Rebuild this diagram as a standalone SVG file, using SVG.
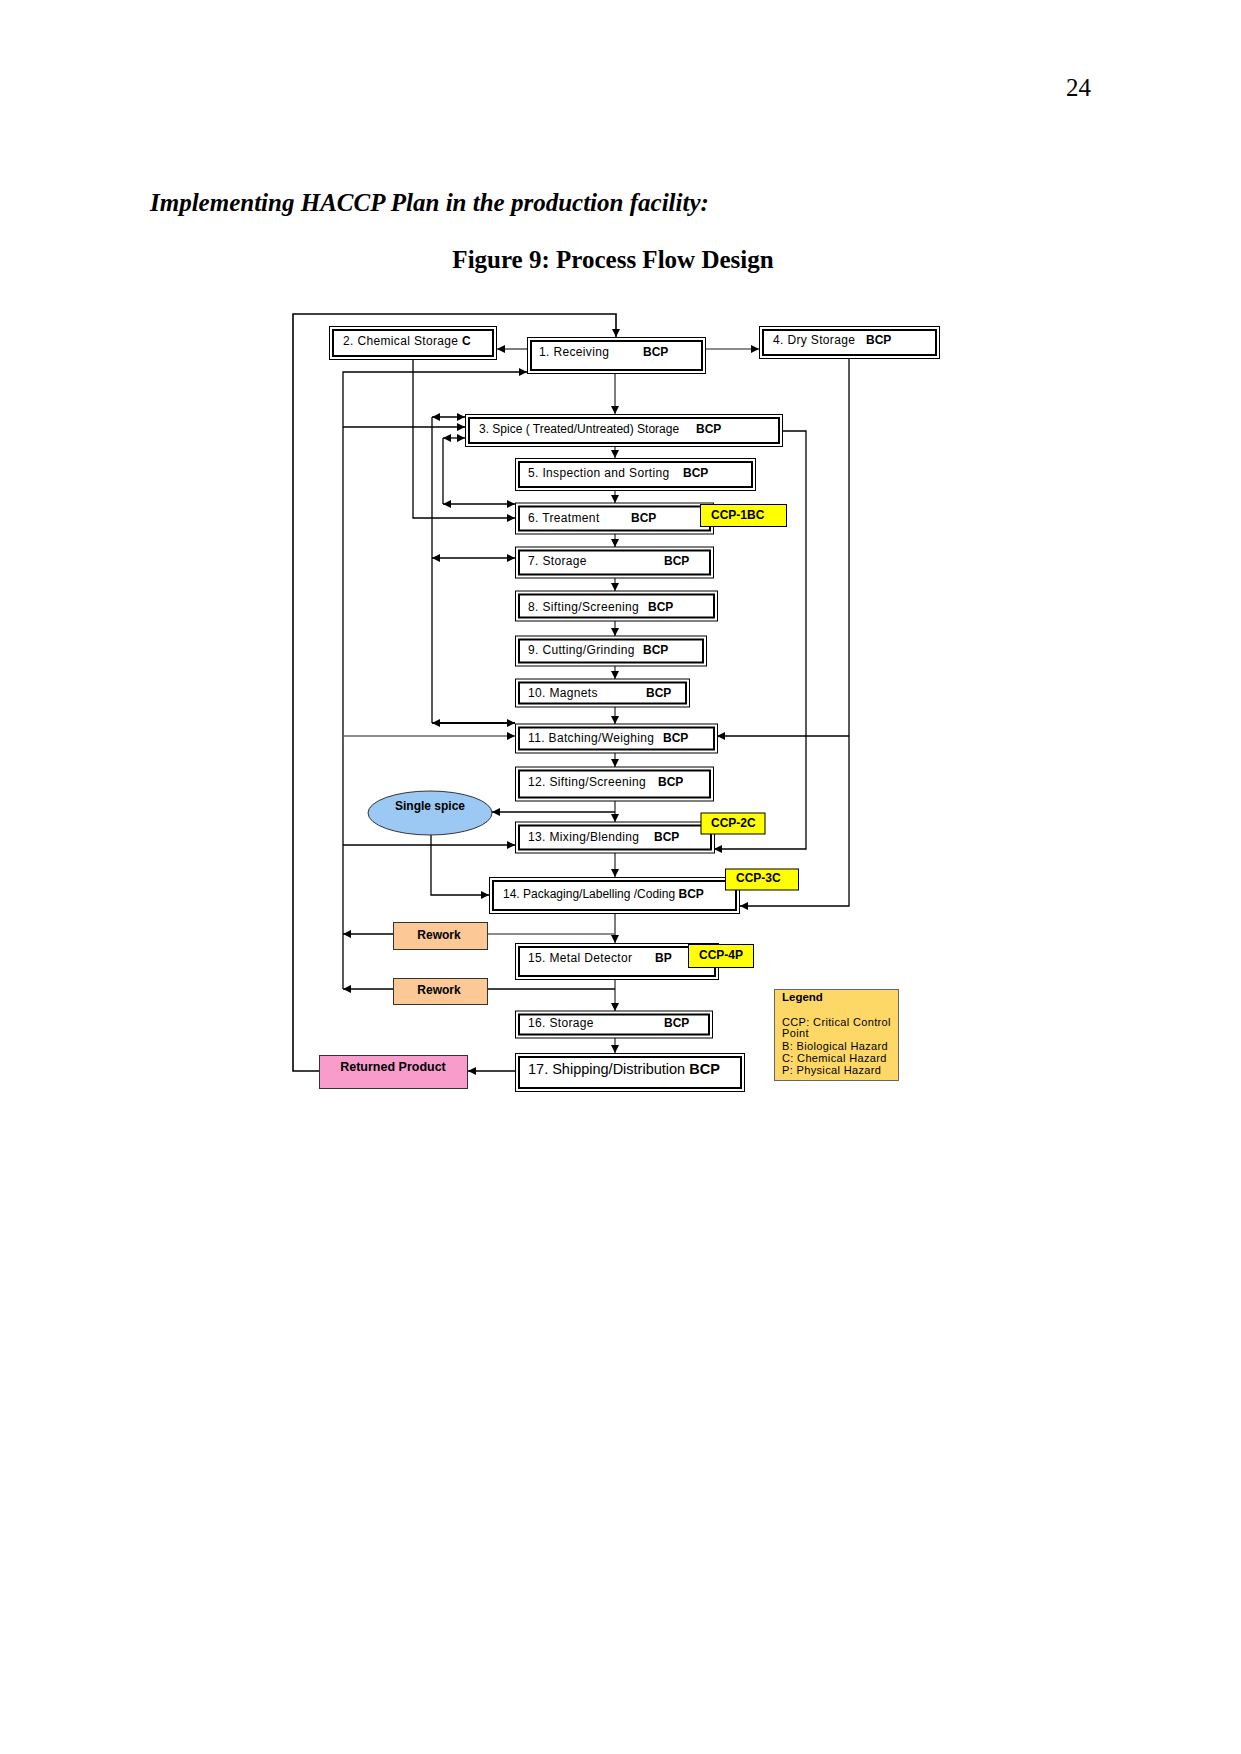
<svg xmlns="http://www.w3.org/2000/svg" width="1241" height="1754" viewBox="0 0 1241 1754">
<style>
.pg{font-family:"Liberation Serif","Times New Roman",serif;font-size:25px;fill:#000}
.t{font-family:"Liberation Sans",Arial,sans-serif;font-size:12px;fill:#000}
.s{letter-spacing:0.35px}
.b{font-weight:bold;letter-spacing:0}
.o{fill:#fff;stroke:#000;stroke-width:1}
.i{fill:none;stroke:#000;stroke-width:2}
.ccp{fill:#ffff00;stroke:#000;stroke-width:1}
.rw{fill:#fbc896;stroke:#333;stroke-width:1}
.rp{fill:#f89ccb;stroke:#333;stroke-width:1}
.lg{fill:#fdd866;stroke:#666;stroke-width:1}
.c{fill:none;stroke:#000;stroke-width:1.3}
.g{fill:none;stroke:#666;stroke-width:1.7}
.a{marker-end:url(#arr)}
.d{marker-start:url(#arr);marker-end:url(#arr)}
</style>
<defs>
<marker id="arr" viewBox="0 0 10 10" refX="10" refY="5" markerWidth="8" markerHeight="8" markerUnits="userSpaceOnUse" orient="auto-start-reverse">
<path d="M0,0 L10,5 L0,10 z" fill="#000"/>
</marker>
</defs>
<rect x="0" y="0" width="1241" height="1754" fill="#fff"/>
<text class="pg" x="1066" y="96">24</text>
<text class="pg" x="150" y="211" font-weight="bold" font-style="italic">Implementing HACCP Plan in the production facility:</text>
<text class="pg" x="613" y="268" font-weight="bold" text-anchor="middle">Figure 9: Process Flow Design</text>

<g id="connectors">
<line class="g a" x1="615" y1="373" x2="615" y2="414"/>
<line class="g a" x1="615" y1="446" x2="615" y2="458"/>
<line class="g a" x1="615" y1="490" x2="615" y2="503"/>
<line class="g a" x1="615" y1="534" x2="615" y2="547"/>
<line class="g a" x1="615" y1="578" x2="615" y2="591"/>
<line class="g a" x1="615" y1="621" x2="615" y2="636"/>
<line class="g a" x1="615" y1="666" x2="615" y2="679"/>
<line class="g a" x1="615" y1="707" x2="615" y2="724"/>
<line class="g a" x1="615" y1="753" x2="615" y2="767"/>
<line class="g a" x1="615" y1="801" x2="615" y2="822"/>
<line class="g a" x1="615" y1="853" x2="615" y2="877"/>
<line class="g a" x1="615" y1="913" x2="615" y2="943"/>
<line class="g a" x1="615" y1="979" x2="615" y2="1011"/>
<line class="g a" x1="615" y1="1038" x2="615" y2="1053"/>
<line class="c a" x1="615" y1="812" x2="492" y2="812"/>
<line class="g" x1="615" y1="934" x2="487" y2="934"/>
<line class="c a" x1="393" y1="934" x2="343" y2="934"/>
<line class="c" x1="615" y1="989" x2="487" y2="989"/>
<line class="c a" x1="393" y1="989" x2="343" y2="989"/>
<polyline class="c a" points="319,1071 293,1071 293,314 616,314 616,337" style="stroke-width:1.6"/>
<line class="g a" x1="527" y1="349" x2="497" y2="349"/>
<line class="g a" x1="706" y1="349" x2="759" y2="349"/>
<polyline class="c a" points="343,989 343,372 527,372"/>
<line class="c a" x1="343" y1="427" x2="465" y2="427"/>
<line class="g a" x1="343" y1="736" x2="515" y2="736"/>
<line class="c a" x1="343" y1="845" x2="515" y2="845"/>
<polyline class="c a" points="413,359 413,518 515,518"/>
<line class="c" x1="432" y1="417" x2="432" y2="723"/>
<line class="c d" x1="432" y1="417" x2="465" y2="417"/>
<line class="c d" x1="432" y1="558" x2="515" y2="558"/>
<line class="c d" x1="432" y1="723" x2="515" y2="723" style="stroke-width:1.8"/>
<line class="c" x1="443" y1="438" x2="443" y2="504"/>
<line class="c d" x1="443" y1="438" x2="465" y2="438"/>
<line class="c d" x1="443" y1="504" x2="515" y2="504"/>
<polyline class="c a" points="782,431 806,431 806,849 714,849"/>
<polyline class="c a" points="849,358 849,906 740,906"/>
<line class="c a" x1="849" y1="736" x2="717" y2="736"/>
<polyline class="c a" points="431,835 431,895 489,895"/>
<line class="c a" x1="515" y1="1071" x2="468" y2="1071"/>
</g>

<g id="n2"><rect class="o" x="329.5" y="326.5" width="167" height="33"/><rect class="i" x="333" y="330" width="160" height="26"/>
<text class="t s" x="343" y="345">2. Chemical Storage <tspan class="b">C</tspan></text></g>
<g id="n1"><rect class="o" x="527.5" y="337.5" width="178" height="36"/><rect class="i" x="531" y="341" width="171" height="29"/>
<text class="t s" x="539" y="356">1.  Receiving<tspan class="b" x="643">BCP</tspan></text></g>
<g id="n4"><rect class="o" x="759.5" y="326.5" width="180" height="32"/><rect class="i" x="763" y="330" width="173" height="25"/>
<text class="t s" x="773" y="344">4. Dry Storage<tspan class="b" x="866">BCP</tspan></text></g>
<g id="n3"><rect class="o" x="465.5" y="414.5" width="317" height="32"/><rect class="i" x="469" y="418" width="310" height="25"/>
<text class="t" x="479" y="433">3. Spice ( Treated/Untreated) Storage<tspan class="b" x="696">BCP</tspan></text></g>
<g id="n5"><rect class="o" x="515.5" y="458.5" width="240" height="32"/><rect class="i" x="519" y="462" width="233" height="25"/>
<text class="t s" x="528" y="477">5.  Inspection and Sorting<tspan class="b" x="683">BCP</tspan></text></g>
<g id="n6"><rect class="o" x="515.5" y="503" width="198" height="31"/><rect class="i" x="519" y="506.5" width="191" height="24"/>
<text class="t s" x="528" y="522">6.  Treatment<tspan class="b" x="631">BCP</tspan></text></g>
<g id="ccp1"><rect class="ccp" x="700.5" y="504.5" width="86" height="22"/><text class="t b" x="711" y="518.5">CCP-1BC</text></g>
<g id="n7"><rect class="o" x="515.5" y="547" width="198" height="31"/><rect class="i" x="519" y="550.5" width="191" height="24"/>
<text class="t s" x="528" y="565">7.  Storage<tspan class="b" x="664">BCP</tspan></text></g>
<g id="n8"><rect class="o" x="515.5" y="591" width="202" height="30"/><rect class="i" x="519" y="594.5" width="195" height="23"/>
<text class="t s" x="528" y="611">8. Sifting/Screening<tspan class="b" x="648">BCP</tspan></text></g>
<g id="n9"><rect class="o" x="515.5" y="636" width="191" height="30"/><rect class="i" x="519" y="639.5" width="184" height="23"/>
<text class="t s" x="528" y="654">9. Cutting/Grinding<tspan class="b" x="643">BCP</tspan></text></g>
<g id="n10"><rect class="o" x="515.5" y="679" width="174" height="28"/><rect class="i" x="519" y="682.5" width="167" height="21"/>
<text class="t s" x="528" y="697">10. Magnets<tspan class="b" x="646">BCP</tspan></text></g>
<g id="n11"><rect class="o" x="515.5" y="724" width="202" height="29"/><rect class="i" x="519" y="727.5" width="195" height="22"/>
<text class="t s" x="528" y="742">11. Batching/Weighing<tspan class="b" x="663">BCP</tspan></text></g>
<g id="n12"><rect class="o" x="515.5" y="767" width="198" height="34"/><rect class="i" x="519" y="770.5" width="191" height="27"/>
<text class="t s" x="528" y="786">12.  Sifting/Screening<tspan class="b" x="658">BCP</tspan></text></g>
<g id="single-spice"><ellipse cx="430" cy="813" rx="62" ry="22" fill="#9cc8f4" stroke="#333" stroke-width="1"/>
<text class="t b" x="430" y="810" text-anchor="middle">Single spice</text></g>
<g id="n13"><rect class="o" x="515.5" y="822" width="199" height="31"/><rect class="i" x="519" y="825.5" width="192" height="24"/>
<text class="t s" x="528" y="841">13.  Mixing/Blending<tspan class="b" x="654">BCP</tspan></text></g>
<g id="ccp2"><rect class="ccp" x="701" y="813" width="64" height="21"/><text class="t b" x="711" y="827">CCP-2C</text></g>
<g id="n14"><rect class="o" x="489.5" y="877.5" width="250" height="36"/><rect class="i" x="493" y="881" width="243" height="29"/>
<text class="t" x="503" y="898">14. Packaging/Labelling /Coding <tspan class="b">BCP</tspan></text></g>
<g id="ccp3"><rect class="ccp" x="725.5" y="869" width="73" height="21"/><text class="t b" x="736" y="882">CCP-3C</text></g>
<g id="rework1"><rect class="rw" x="393.5" y="922.5" width="94" height="27"/><text class="t b" x="439" y="939" text-anchor="middle">Rework</text></g>
<g id="n15"><rect class="o" x="515.5" y="943.5" width="203" height="36"/><rect class="i" x="519" y="947" width="196" height="29"/>
<text class="t s" x="528" y="962">15. Metal Detector<tspan class="b" x="655">BP</tspan></text></g>
<g id="ccp4"><rect class="ccp" x="688.5" y="944.5" width="65" height="23"/><text class="t b" x="699" y="958.5">CCP-4P</text></g>
<g id="rework2"><rect class="rw" x="393.5" y="978.5" width="94" height="26"/><text class="t b" x="439" y="994" text-anchor="middle">Rework</text></g>
<g id="n16"><rect class="o" x="515.5" y="1011" width="197" height="27"/><rect class="i" x="519" y="1014.5" width="190" height="20"/>
<text class="t s" x="528" y="1027">16.  Storage<tspan class="b" x="664">BCP</tspan></text></g>
<g id="n17"><rect class="o" x="515.5" y="1053.5" width="229" height="38"/><rect class="i" x="519" y="1057" width="222" height="31"/>
<text class="t" x="528" y="1074" style="font-size:14.5px">17.  Shipping/Distribution <tspan class="b">BCP</tspan></text></g>
<g id="returned"><rect class="rp" x="319.5" y="1055.5" width="148" height="33"/><text class="t b" x="393" y="1071" text-anchor="middle" style="font-size:12.5px">Returned Product</text></g>
<g id="legend"><rect class="lg" x="774.5" y="989.5" width="124" height="91"/>
<text class="t b" x="782" y="1001" style="font-size:11.5px">Legend</text>
<text class="t s" style="font-size:11px"><tspan x="782" y="1026">CCP:  Critical Control</tspan><tspan x="782" y="1037">Point</tspan><tspan x="782" y="1049.5">B:  Biological Hazard</tspan><tspan x="782" y="1062">C:  Chemical Hazard</tspan><tspan x="782" y="1073.5">P:  Physical Hazard</tspan></text></g>
</svg>
